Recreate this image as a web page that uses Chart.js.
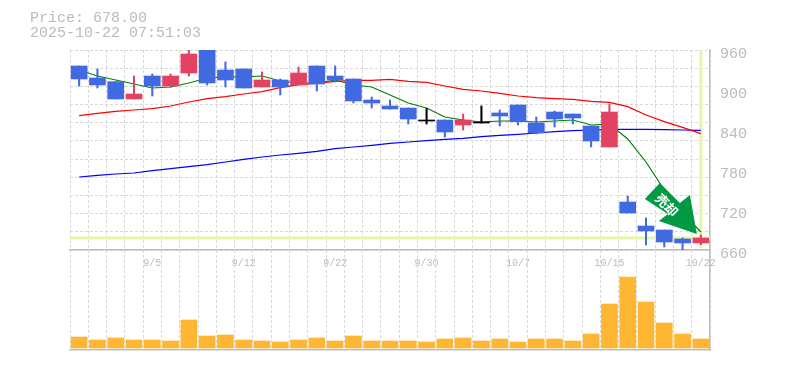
<!DOCTYPE html>
<html>
<head>
<meta charset="utf-8">
<script src="https://cdn.jsdelivr.net/npm/chart.js@4"></script>
<style>
  html, body { margin: 0; padding: 0; background: #fff; }
  #wrap { position: relative; width: 785px; height: 370px; overflow: hidden; }
  canvas { position: absolute; left: 0; }
</style>
</head>
<body>
<div id="wrap">
  <canvas id="priceChart" width="785" height="275" style="top:0"></canvas>
  <canvas id="volChart" width="785" height="110" style="top:250px"></canvas>
</div>
<script>
const dates = ['9/1','9/2','9/3','9/4','9/5','9/8','9/9','9/10','9/11','9/12','9/16','9/17','9/18','9/19','9/22','9/24','9/25','9/26','9/29','9/30','10/1','10/2','10/3','10/6','10/7','10/8','10/9','10/10','10/14','10/15','10/16','10/17','10/20','10/21','10/22'];
const shownDates = ['9/5','9/12','9/22','9/30','10/7','10/15','10/22'];
const priceTicks = [660,720,780,840,900,960];

const open  = [936,918,912.5,886.5,921,906,925.5,960,930,931.5,904.5,915,907.5,936,921,916.5,885,876,873,855,855,847.5,852,865.5,877.5,850.5,867,864,846,814.5,732,696,690,676.5,670.5];
const close = [916.5,907.5,886.5,894,906,921,954,910.5,915,903,915,904.5,925.5,909,915,883.5,880.5,871.5,856.5,853.5,837,855,850.5,861,852.5,835.5,856.5,858,823.5,867,715.5,688.5,672,670.5,678];
const high  = [936,931.5,912.5,921,924,924,960,960,942,931.5,927,916.5,934.5,936,936,916.5,889.5,885,873,872.5,855,864,876,870,877.5,859.5,868.5,864,846,879,741,708,690,678,682.5];
const low   = [906,903,886.5,886.5,891,904,921,907.5,904.5,903,904.5,892.5,907.5,898.5,912,880.5,873,871.5,849,849,829.5,840,850.5,846,847.5,834,844.5,849,814.5,814.5,715.5,667.5,664.5,660,668];

const ma5  = [930,921,915,909,903,904.5,910.5,918,919.5,919.5,921,913.5,910.5,910.5,915,907.5,904.5,892.5,880.5,873,859.5,855,852,853.5,853.5,852,853.5,855,847.5,849,826.5,792,750,715.5,687];
const ma25 = [861.5,864.8,867.8,870,872,876,882,887,890,894,897.5,903.5,908,910,913,914.5,914.5,916,913,911.5,906,901,898.5,895,891,888.5,887,886,883,881.5,875,862.5,852.5,844,834.5];
const ma75 = [769.5,772,774,775.5,779,782,785,788,792,796,799.5,802.5,805,808,812,814.5,817,820,822,824,826,827.5,830,832,833.5,835.5,837.5,839,840,841,841,841,840.5,840,839.5];

const volume = [11,8,10,8,8,7,28,12,13,8,7,6,8,10,7,12,7,7,7,6,9,10,7,9,6,9,9,7,14,44,71,46,25,14,9];

const lastPrice = 678;
const infoLines = ['Price: 678.00', '2025-10-22 07:51:03'];
const signalText = '売却';

const UP = '#E24262', DOWN = '#4169E1', DOJI = '#000000';
const GRID = '#d8d8d8', AXIS = '#bdbdbd', LABEL = '#bbbbbb', CROSS = '#E4F5A8';

const candleColors = open.map((o, i) => {
  if (Math.abs(o - close[i]) < 2) return DOJI;
  return close[i] > o ? UP : DOWN;
});

// price lines under the candles, sell arrow and info text on top
const overlay = {
  id: 'overlay',
  beforeDatasetsDraw(c) {
    const { ctx, chartArea: a, scales } = c;
    const y = scales.y.getPixelForValue(lastPrice);
    const x = scales.x.getPixelForValue(dates.length - 1);
    ctx.save();
    ctx.strokeStyle = CROSS;
    ctx.lineWidth = 3;
    ctx.beginPath();
    ctx.moveTo(a.left, y); ctx.lineTo(a.right, y);
    ctx.moveTo(x, a.top); ctx.lineTo(x, a.bottom - 2);
    ctx.stroke();
    ctx.restore();
  },
  afterDraw(c) {
    const { ctx, scales } = c;
    ctx.save();
    ctx.fillStyle = LABEL;
    ctx.font = '15px "Liberation Mono"';
    ctx.textBaseline = 'middle';
    ctx.fillText(infoLines[0], 30, 18);
    ctx.fillText(infoLines[1], 30, 33);

    // arrow tip sits just above the last close
    const tipX = scales.x.getPixelForValue(dates.length - 1) - 4;
    const tipY = scales.y.getPixelForValue(lastPrice) - 4;
    ctx.translate(tipX, tipY);
    ctx.fillStyle = '#009944';
    ctx.beginPath();
    ctx.moveTo(0, 0);
    ctx.lineTo(-38, -13);
    ctx.lineTo(-29, -20);
    ctx.lineTo(-52, -35);
    ctx.lineTo(-37, -51);
    ctx.lineTo(-17, -31);
    ctx.lineTo(-7, -39);
    ctx.closePath();
    ctx.fill();
    ctx.translate(-30, -29);
    ctx.rotate(Math.PI / 4);
    ctx.fillStyle = '#fff';
    ctx.font = 'bold 13px "Noto Sans CJK JP"';
    ctx.textAlign = 'center';
    ctx.textBaseline = 'middle';
    ctx.fillText(signalText, 0, 0);
    ctx.restore();
  }
};

const xGrid = { display: true, offset: true, drawTicks: false, color: GRID, lineWidth: 1 };

new Chart(document.getElementById('priceChart'), {
  type: 'bar',
  data: {
    labels: dates,
    datasets: [
      { type: 'bar', data: open.map((o, i) => [o, close[i]]), backgroundColor: candleColors, barThickness: 16, grouped: false, order: 1, borderSkipped: false },
      { type: 'bar', data: low.map((l, i) => [l, high[i]]), backgroundColor: candleColors, barThickness: 1.4, grouped: false, order: 2, borderSkipped: false },
      { type: 'line', data: ma5, borderColor: '#008000', borderWidth: 1.2, pointRadius: 0, tension: 0, order: 3 },
      { type: 'line', data: ma25, borderColor: '#ff0000', borderWidth: 1.2, pointRadius: 0, tension: 0, order: 3 },
      { type: 'line', data: ma75, borderColor: '#0000ff', borderWidth: 1.2, pointRadius: 0, tension: 0, order: 3 }
    ]
  },
  plugins: [overlay],
  options: {
    responsive: false,
    animation: false,
    layout: { padding: { left: 70, top: 50, right: 0, bottom: 0 } },
    plugins: { legend: { display: false }, tooltip: { enabled: false } },
    scales: {
      x: {
        offset: true,
        grid: xGrid,
        border: { display: true, color: AXIS, width: 1.5, dash: [3, 2] },
        afterFit(s) { s.height = 25; },
        ticks: {
          autoSkip: false, maxRotation: 0, minRotation: 0, padding: 7,
          color: LABEL, font: { family: 'Liberation Mono', size: 10 },
          callback(v) { const d = dates[v]; return shownDates.includes(d) ? d : ''; }
        }
      },
      y: {
        position: 'right', min: 660, max: 960,
        grid: { display: false },
        border: { display: true, color: AXIS, width: 1.5 },
        afterFit(s) { s.width = 75; },
        afterBuildTicks(s) { s.ticks = priceTicks.map(value => ({ value })); },
        ticks: {
          padding: 2, labelOffset: 4, color: LABEL,
          font: { family: 'Liberation Mono', size: 15 }
        }
      },
      yGrid: {
        position: 'right', min: 660, max: 960,
        afterFit(s) { s.width = 0; },
        afterBuildTicks(s) {
          // 11 divisions of the plot, not tied to the price labels
          s.ticks = Array.from({ length: 12 }, (_, i) => ({ value: 660 + i * 300 / 11 }));
        },
        grid: { drawTicks: false, color: GRID, lineWidth: 1 },
        border: { display: false, dash: [3, 2] },
        ticks: { display: false }
      }
    }
  }
});

new Chart(document.getElementById('volChart'), {
  type: 'bar',
  data: {
    labels: dates,
    datasets: [{ data: volume, backgroundColor: '#FFB733', barThickness: 16 }]
  },
  options: {
    responsive: false,
    animation: false,
    layout: { padding: { left: 70, top: 0, right: 0, bottom: 0 } },
    plugins: { legend: { display: false }, tooltip: { enabled: false } },
    scales: {
      x: {
        offset: true,
        grid: xGrid,
        border: { display: true, color: AXIS, width: 1.5, dash: [3, 2] },
        afterFit(s) { s.height = 10; },
        ticks: { display: false }
      },
      y: {
        position: 'right', min: -2, max: 98,
        grid: { display: false },
        border: { display: true, color: AXIS, width: 1.5 },
        afterFit(s) { s.width = 75; },
        ticks: { display: false }
      }
    }
  }
});
</script>
</body>
</html>
